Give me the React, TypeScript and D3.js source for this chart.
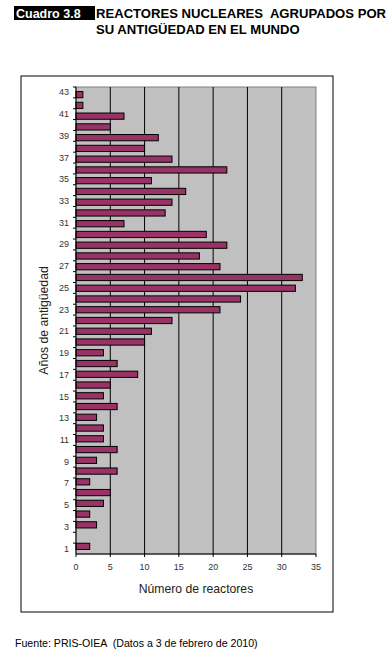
import React, { useEffect, useRef } from 'react';
import * as d3 from 'd3';

// años de antigüedad 1..43 y número de reactores
const years = d3.range(1, 44);
const reactors = [
  2, 0, 3, 2, 4, 5, 2, 6, 3, 6,
  4, 4, 3, 6, 4, 5, 9, 6, 4, 10,
  11, 14, 21, 24, 32, 33, 21, 18, 22, 19,
  7, 13, 14, 16, 11, 22, 14, 10, 12, 5,
  7, 1, 1,
];
const xTicks = [0, 5, 10, 15, 20, 25, 30, 35];
const yLabels = years.filter(d => d % 2 === 1);

const App = () => {
  const svgRef = useRef<SVGSVGElement | null>(null);

  useEffect(() => {
    const svg = d3.select(svgRef.current);
    svg.selectAll('*').remove();

    const width = 390;
    const height = 656;
    const plot = { left: 76, right: 316, top: 87, bottom: 554 };
    const font = 'Liberation Sans, Arial, sans-serif';

    svg.attr('width', width).attr('height', height).style('display', 'block')
      .style('background', 'white');

    // title
    svg.append('rect').attr('x', 14).attr('y', 6).attr('width', 81).attr('height', 14).attr('fill', 'black');
    svg.append('text').attr('x', 16).attr('y', 17.5).text('Cuadro 3.8')
      .style('font-family', font).style('font-weight', 'bold').style('font-size', '12.5px').style('fill', 'white');
    const title = svg.append('text').style('font-family', font).style('font-weight', 'bold')
      .style('font-size', '13.1px').style('fill', 'black');
    title.append('tspan').attr('x', 96).attr('y', 18).attr('xml:space', 'preserve')
      .text('REACTORES NUCLEARES  AGRUPADOS POR');
    title.append('tspan').attr('x', 96).attr('y', 34).text('SU ANTIGÜEDAD EN EL MUNDO');

    // chart frame
    svg.append('rect').attr('x', 21).attr('y', 76).attr('width', 312).attr('height', 536)
      .attr('fill', 'white').attr('stroke', 'black').attr('stroke-width', 1);

    const x = d3.scaleLinear().domain([0, 35]).range([plot.left, plot.right]);
    const y = d3.scaleBand<number>().domain(years.slice().reverse()).range([plot.top, plot.bottom]).padding(0.42);
    const yOuter = d3.scaleBand<number>().domain(years.slice().reverse()).range([plot.top, plot.bottom]).padding(0);

    // plot area
    svg.append('rect').attr('x', plot.left).attr('y', plot.top)
      .attr('width', plot.right - plot.left).attr('height', plot.bottom - plot.top)
      .attr('fill', '#c0c0c0').attr('stroke', '#808080').attr('stroke-width', 1);

    // gridlines
    svg.append('g').selectAll('line').data(xTicks.slice(1, -1)).enter().append('line')
      .attr('x1', d => x(d)).attr('x2', d => x(d))
      .attr('y1', plot.top).attr('y2', plot.bottom)
      .attr('stroke', '#000').attr('stroke-width', 1);

    // bars
    svg.append('g').selectAll('rect').data(years).enter().append('rect')
      .attr('x', x(0))
      .attr('y', d => y(d)!)
      .attr('width', (d, i) => x(reactors[i]) - x(0))
      .attr('height', y.bandwidth())
      .attr('fill', '#993366')
      .attr('stroke', (d, i) => (reactors[i] > 0 ? '#000' : 'none'))
      .attr('stroke-width', 1);

    // y axis
    const yAxis = svg.append('g');
    yAxis.append('line').attr('x1', plot.left).attr('x2', plot.left)
      .attr('y1', plot.top).attr('y2', plot.bottom).attr('stroke', '#000');
    yAxis.selectAll('.yt').data(years).enter().append('line')
      .attr('x1', plot.left - 3).attr('x2', plot.left)
      .attr('y1', d => yOuter(d)!).attr('y2', d => yOuter(d)!)
      .attr('stroke', '#000');
    yAxis.selectAll('text').data(yLabels).enter().append('text')
      .attr('x', plot.left - 7)
      .attr('y', d => yOuter(d)! + yOuter.bandwidth() / 2 + 3)
      .attr('text-anchor', 'end')
      .text(d => d)
      .style('font-family', font).style('font-size', '9px').style('fill', '#333');

    // x axis
    const xAxis = svg.append('g');
    xAxis.append('line').attr('x1', plot.left).attr('x2', plot.right)
      .attr('y1', plot.bottom).attr('y2', plot.bottom).attr('stroke', '#000');
    xAxis.selectAll('.xt').data(xTicks).enter().append('line')
      .attr('x1', d => x(d)).attr('x2', d => x(d))
      .attr('y1', plot.bottom).attr('y2', plot.bottom + 3).attr('stroke', '#000');
    xAxis.selectAll('text').data(xTicks).enter().append('text')
      .attr('x', d => x(d)).attr('y', plot.bottom + 16)
      .attr('text-anchor', 'middle')
      .text(d => d)
      .style('font-family', font).style('font-size', '9px').style('fill', '#333');

    // axis titles
    svg.append('text').attr('x', (plot.left + plot.right) / 2).attr('y', 593)
      .attr('text-anchor', 'middle').text('Número de reactores')
      .style('font-family', font).style('font-size', '12.2px').style('fill', '#222');
    svg.append('text')
      .attr('transform', `translate(48,${(plot.top + plot.bottom) / 2}) rotate(-90)`)
      .attr('text-anchor', 'middle').text('Años de antigüedad')
      .style('font-family', font).style('font-size', '12.2px').style('fill', '#222');

    // source
    svg.append('text').attr('x', 15).attr('y', 647).attr('xml:space', 'preserve')
      .text('Fuente: PRIS-OIEA  (Datos a 3 de febrero de 2010)')
      .style('font-family', font).style('font-size', '10.6px').style('fill', '#000');
  }, []);

  return (
    <div style={{ position: 'absolute', left: 0, top: 0 }}>
      <svg ref={svgRef}></svg>
    </div>
  );
};

export default App;
